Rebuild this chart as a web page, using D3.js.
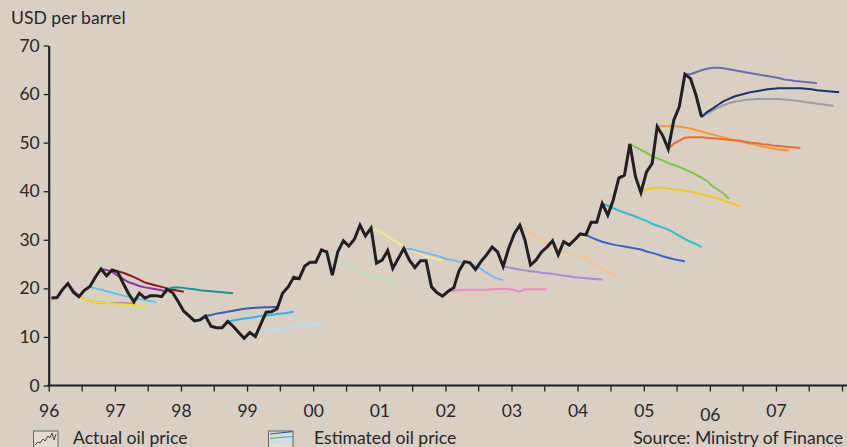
<!DOCTYPE html>
<html>
<head>
<meta charset="utf-8">
<script src="https://cdn.jsdelivr.net/npm/d3@7"></script>
<style>
  body { margin: 0; background: #d9d0c3; }
  svg { display: block; font-family: Lato, "Open Sans", sans-serif; }
</style>
</head>
<body>
<svg id="chart" width="847" height="447"></svg>
<script>
/* Oil price: actual and estimated paths */

// monthly actual price, Jan 1996 - Nov 2005
var actualPrice = [
    18.0, 18.1, 19.7, 21.0, 19.2, 18.3, 19.6, 20.4, 22.4, 24.0, 22.6, 23.8,
    23.4, 21.0, 19.0, 17.2, 19.0, 18.0, 18.5, 18.5, 18.3, 19.8, 19.1, 17.3,
    15.3, 14.3, 13.3, 13.5, 14.3, 12.2, 11.9, 11.9, 13.2, 12.2, 10.9, 9.7,
    10.9, 10.1, 12.5, 15.1, 15.2, 15.8, 19.0, 20.3, 22.3, 22.0, 24.6, 25.4,
    25.4, 27.9, 27.5, 22.7, 27.5, 29.8, 28.7, 30.1, 33.0, 30.8, 32.4, 25.2,
    25.8, 27.8, 24.1, 26.2, 28.2, 25.8, 24.3, 25.7, 25.7, 20.3, 19.1, 18.4,
    19.4, 20.1, 23.5, 25.5, 25.3, 23.9, 25.5, 26.9, 28.5, 27.5, 24.5, 28.2,
    31.2, 33.0, 30.0, 24.8, 25.8, 27.5, 28.5, 29.8, 26.9, 29.6, 28.9, 30.0,
    31.2, 31.0, 33.6, 33.6, 37.5, 35.1, 38.2, 42.7, 43.3, 49.7, 43.0, 39.7,
    44.0, 45.7, 53.3, 51.4, 48.7, 54.7, 57.4, 64.1, 63.2, 59.8, 55.3
];
var actualStart = "1996-01";

// month each estimate was made, and its monthly path
var forecastStart = ["1996-04", "1996-06", "1996-08", "1996-10", "1996-12", "1997-10",
    "1998-05", "1998-09", "1999-01", "2000-03", "2000-11", "2001-05",
    "2002-01", "2002-11", "2003-02", "2004-02", "2004-05", "2004-10",
    "2004-12", "2005-03", "2005-05", "2005-08", "2005-11", "2005-11"];

var forecastValues = [
    [21.0, 19.7, 18.4, 17.8, 17.4, 17.2, 17.1, 17.0, 16.95, 16.95, 16.95, 16.9, 16.85],
    [18.3, 17.8, 17.4, 17.2, 17.1, 17.0, 16.9, 16.8, 16.75, 16.7, 16.6, 16.5, 16.2],
    [20.3, 20.0, 19.7, 19.4, 19.1, 18.8, 18.5, 18.3, 18.0, 17.8, 17.6, 17.4, 17.2],
    [24.0, 23.8, 23.4, 22.6, 21.9, 21.3, 20.9, 20.5, 20.2, 20.0, 19.8, 19.6, 19.2],
    [23.8, 23.5, 23.2, 22.8, 22.3, 21.8, 21.2, 20.9, 20.6, 20.3, 20.0, 19.7, 19.5, 19.3],
    [19.8, 20.2, 20.2, 20.1, 19.9, 19.8, 19.6, 19.5, 19.4, 19.3, 19.2, 19.1, 19.0],
    [14.3, 14.5, 14.8, 15.0, 15.2, 15.4, 15.6, 15.8, 15.9, 16.0, 16.05, 16.1, 16.1, 16.2],
    [13.2, 13.4, 13.6, 13.8, 13.9, 14.1, 14.3, 14.4, 14.5, 14.7, 14.8, 15.0, 15.2],
    [10.9, 11.0, 11.2, 11.3, 11.5, 11.6, 11.8, 11.9, 12.1, 12.2, 12.4, 12.5, 12.6, 12.8],
    [27.5, 26.8, 26.0, 25.2, 24.6, 24.0, 23.6, 23.1, 22.7, 22.3, 21.9, 21.6, 21.2, 20.8],
    [32.4, 32.0, 31.4, 30.7, 30.0, 29.3, 28.6, 28.0, 27.5, 27.1, 26.6, 26.3, 26.0, 25.7],
    [28.2, 28.1, 27.9, 27.6, 27.3, 27.0, 26.7, 26.3, 26.0, 25.8, 25.5, 25.3, 25.1, 24.6, 24.0, 23.2, 22.5, 22.0, 21.7],
    [19.4, 19.5, 19.6, 19.7, 19.7, 19.7, 19.7, 19.7, 19.8, 19.8, 19.9, 19.9, 19.6, 19.3, 19.8, 19.8, 19.8, 19.8, 19.8],
    [24.5, 24.3, 24.1, 23.9, 23.7, 23.5, 23.4, 23.2, 23.1, 23.0, 22.8, 22.6, 22.5, 22.3, 22.2, 22.1, 22.0, 21.9, 21.8],
    [33.0, 32.0, 31.3, 30.6, 29.9, 29.2, 28.6, 28.0, 27.5, 27.2, 26.9, 26.6, 26.2, 25.6, 24.8, 24.0, 23.3, 22.8, 22.4],
    [31.0, 30.5, 30.0, 29.6, 29.3, 29.0, 28.8, 28.6, 28.4, 28.2, 28.0, 27.6, 27.3, 27.0, 26.6, 26.3, 26.0, 25.8, 25.6],
    [37.5, 37.0, 36.5, 36.0, 35.6, 35.2, 34.8, 34.3, 33.9, 33.3, 32.9, 32.5, 32.1, 31.5, 30.8, 30.2, 29.6, 29.1, 28.5],
    [49.7, 49.1, 48.5, 47.9, 47.2, 46.8, 46.3, 45.8, 45.4, 45.0, 44.5, 44.0, 43.4, 42.8, 42.1, 41.0, 40.3, 39.6, 38.4],
    [39.7, 40.4, 40.6, 40.7, 40.7, 40.5, 40.4, 40.3, 40.1, 39.9, 39.7, 39.4, 39.1, 38.8, 38.5, 38.1, 37.7, 37.3, 36.8],
    [53.3, 53.4, 53.4, 53.4, 53.3, 53.1, 52.9, 52.6, 52.3, 52.0, 51.7, 51.4, 51.1, 50.8, 50.5, 50.3, 50.0, 49.7, 49.5, 49.2, 49.0, 48.8, 48.6, 48.5, 48.4],
    [48.7, 49.8, 50.4, 51.0, 51.1, 51.1, 51.1, 51.0, 50.9, 50.8, 50.7, 50.6, 50.5, 50.4, 50.2, 50.0, 49.9, 49.7, 49.6, 49.4, 49.3, 49.2, 49.1, 49.0, 48.9],
    [64.1, 64.1, 64.5, 64.9, 65.2, 65.4, 65.4, 65.3, 65.1, 64.9, 64.7, 64.5, 64.3, 64.1, 63.9, 63.7, 63.5, 63.3, 63.0, 62.9, 62.7, 62.6, 62.5, 62.4, 62.2],
    [55.3, 55.9, 56.6, 57.2, 57.7, 58.1, 58.4, 58.6, 58.8, 58.9, 59.0, 59.0, 59.0, 59.0, 59.0, 58.9, 58.8, 58.7, 58.5, 58.3, 58.2, 58.0, 57.9, 57.7, 57.6],
    [55.3, 56.3, 57.0, 57.8, 58.5, 59.0, 59.5, 59.8, 60.1, 60.4, 60.6, 60.8, 61.0, 61.1, 61.2, 61.2, 61.2, 61.2, 61.2, 61.1, 61.0, 60.8, 60.7, 60.6, 60.5, 60.4]
];

var forecastColors = ["#b964b9", "#f0e01e", "#5ac8e4", "#8c35a5", "#8b1a1e", "#1e9090",
    "#3a58b8", "#2cb6ee", "#b4e0ee", "#bde0b5", "#f2ea8e", "#80b6e6",
    "#f08cc2", "#a48ed0", "#f8c290", "#3e62c2", "#30bccc", "#82c342",
    "#f8c622", "#f89a30", "#f06a2e", "#6c6cb4", "#9e9ea2", "#1a3070"];

var yTicks = [0, 10, 20, 30, 40, 50, 60, 70];
var yearLabels = ["96", "97", "98", "99", "00", "01", "02", "03", "04", "05", "06", "07"];

// 常量
var WIDTH = 847, HEIGHT = 447;
var TEXT_COLOR = "#2b2624";
var AXIS_COLOR = "#231f20";
var FONT = "17.6px";

var svg = d3.select("#chart");
svg.append("rect")
    .attr("width", WIDTH)
    .attr("height", HEIGHT)
    .attr("fill", "#d9d0c3");

var x = d3.scaleTime()
    .domain([new Date(1996, 0, 1), new Date(2008, 0, 1)])
    .range([48.7, 842]);
var y = d3.scaleLinear()
    .domain([0, 70])
    .range([385.5, 45.5]);

var parseMonth = d3.timeParse("%Y-%m");

// turn a start month + values into dated points (plotted mid-month)
function toPoints(start, values) {
    var d0 = parseMonth(start);
    return values.map(function(v, i) {
        return { date: new Date(d0.getFullYear(), d0.getMonth() + i, 16), value: v };
    });
}

var line = d3.line()
    .x(function(d) { return x(d.date); })
    .y(function(d) { return y(d.value); });

// estimated paths
svg.append("g")
    .selectAll("path")
    .data(forecastValues)
    .enter()
    .append("path")
    .attr("d", function(d, i) { return line(toPoints(forecastStart[i], d)); })
    .attr("fill", "none")
    .attr("stroke", function(d, i) { return forecastColors[i]; })
    .attr("stroke-width", 2);

// actual price on top
svg.append("path")
    .attr("d", line(toPoints(actualStart, actualPrice)))
    .attr("fill", "none")
    .attr("stroke", AXIS_COLOR)
    .attr("stroke-width", 3);

// y axis
var yAxis = svg.append("g")
    .attr("transform", "translate(48.7,0)")
    .call(d3.axisLeft(y).tickValues(yTicks).tickSize(5).tickPadding(4).tickSizeOuter(0));
yAxis.select(".domain").attr("stroke", AXIS_COLOR).attr("stroke-width", 2.2);
yAxis.selectAll(".tick line").attr("stroke", AXIS_COLOR).attr("stroke-width", 1.3);
yAxis.selectAll(".tick text")
    .attr("fill", TEXT_COLOR)
    .style("font-size", "17.5px")
    .style("font-family", "Lato, 'Open Sans', sans-serif");

// x axis: half-year ticks, year labels
var halfYears = d3.timeMonth.every(6).range(new Date(1996, 0, 1), new Date(2008, 0, 2));
var xAxis = svg.append("g")
    .attr("transform", "translate(0,385.5)")
    .call(d3.axisBottom(x)
        .tickValues(halfYears)
        .tickSize(6)
        .tickSizeOuter(0)
        .tickFormat(function(d) {
            var k = d.getFullYear() - 1996;
            return d.getMonth() === 0 && k < yearLabels.length ? yearLabels[k] : "";
        }));
xAxis.select(".domain").remove();
xAxis.append("line")
    .attr("x1", 47.6)
    .attr("x2", WIDTH)
    .attr("stroke", AXIS_COLOR)
    .attr("stroke-width", 2.2);
xAxis.selectAll(".tick line").attr("stroke", AXIS_COLOR).attr("stroke-width", 1.3);
xAxis.selectAll(".tick text")
    .attr("fill", TEXT_COLOR)
    .attr("y", function(d) { return d3.timeFormat("%y")(d) === "06" ? 23 : 19; })
    .style("font-size", "17.5px")
    .style("font-family", "Lato, 'Open Sans', sans-serif");

// unit label
svg.append("text")
    .attr("x", 11)
    .attr("y", 24)
    .attr("fill", TEXT_COLOR)
    .style("font-size", FONT)
    .text("USD per barrel");

// 图例
var legend = svg.append("g");
legend.append("rect")
    .attr("x", 33.5).attr("y", 431)
    .attr("width", 24.5).attr("height", 18)
    .attr("fill", "#e2dbd0")
    .attr("stroke", "#6a6462")
    .attr("stroke-width", 1);
legend.append("polyline")
    .attr("points", "35,445 38,442 40,443 43,439 45,441 48,436 50,438 52,433 54,440 56,434")
    .attr("fill", "none")
    .attr("stroke", "#3a3432")
    .attr("stroke-width", 0.9);
legend.append("text")
    .attr("x", 73).attr("y", 443.5)
    .attr("fill", TEXT_COLOR)
    .style("font-size", FONT)
    .text("Actual oil price");

legend.append("rect")
    .attr("x", 268.5).attr("y", 431)
    .attr("width", 24.5).attr("height", 18)
    .attr("fill", "#e2dbd0")
    .attr("stroke", "#6a6462")
    .attr("stroke-width", 1);
var iconLines = [["#3a58b8", 434, 431.7], ["#2cb6ee", 438.3, 436.5], ["#b4e0ee", 443, 440.5]];
legend.selectAll(".iconLine")
    .data(iconLines)
    .enter()
    .append("line")
    .attr("x1", 270).attr("x2", 292)
    .attr("y1", function(d) { return d[1]; })
    .attr("y2", function(d) { return d[2]; })
    .attr("stroke", function(d) { return d[0]; })
    .attr("stroke-width", 1.2);
legend.append("text")
    .attr("x", 314).attr("y", 443.5)
    .attr("fill", TEXT_COLOR)
    .style("font-size", FONT)
    .text("Estimated oil price");

svg.append("text")
    .attr("x", 843).attr("y", 443.5)
    .attr("text-anchor", "end")
    .attr("fill", TEXT_COLOR)
    .style("font-size", FONT)
    .text("Source: Ministry of Finance");
</script>
</body>
</html>
